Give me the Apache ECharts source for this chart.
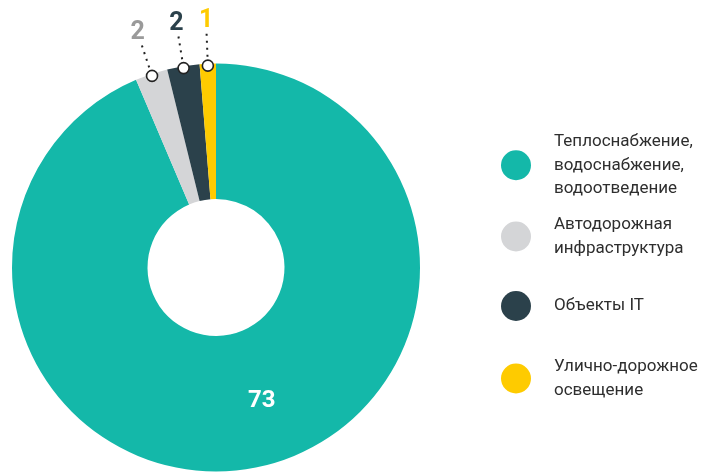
<!DOCTYPE html>
<html>
<head>
<meta charset="utf-8">
<script src="https://cdn.jsdelivr.net/npm/echarts@6/dist/echarts.min.js"></script>
<style>
  html, body { margin: 0; padding: 0; background: #ffffff; }
  #chart { width: 711px; height: 473px; }
</style>
</head>
<body>
<div id="chart"></div>
<script>
// Object counts by sector
const categories = [
  'Теплоснабжение,\nводоснабжение,\nводоотведение',
  'Автодорожная\nинфраструктура',
  'Объекты IT',
  'Улично-дорожное\nосвещение'
];
const values = [73, 2, 2, 1];
const sliceColors = ['#14b8a9', '#d4d5d7', '#2b414b', '#fecb00'];
const labelColors = ['#ffffff', '#9a9a9a', '#2b414b', '#fecb00'];

const total = values.reduce((a, b) => a + b, 0);
// mid-point of each slice along the angle axis (used for the marker dots)
const midpoints = [];
let acc = 0;
values.forEach(v => { midpoints.push(acc + v / 2); acc += v; });

const CENTER = [216, 267.5];
const R_IN = 68.5;
const R_OUT = 204;

const pieData = categories.map((name, i) => {
  const item = {
    name: name,
    value: values[i],
    itemStyle: { color: sliceColors[i] },
    label: { color: labelColors[i] }
  };
  if (i === 0) {
    item.label = {
      position: 'inside',
      color: labelColors[i],
      fontSize: 24,
      offset: [18, -3]
    };
    item.labelLine = { show: false };
  }
  return item;
});

// marker dots at the outer edge of the small slices
const dotData = values.map((v, i) => [1, midpoints[i]]).slice(1);

const legendTops = [125, 208, 286, 350];
const legends = categories.map((name, i) => ({
  data: [name],
  orient: 'vertical',
  left: 496,
  top: legendTops[i],
  icon: 'circle',
  itemWidth: 66,
  itemHeight: 30,
  selectedMode: false,
  textStyle: {
    fontFamily: 'Roboto',
    fontSize: 17,
    lineHeight: 23.5,
    color: '#2e2e2e'
  }
}));

const chart = echarts.init(document.getElementById('chart'), null, { renderer: 'canvas' });
chart.setOption({
  animation: false,
  backgroundColor: '#ffffff',
  legend: legends,
  polar: { center: CENTER, radius: R_OUT - 2 },
  angleAxis: { type: 'value', min: 0, max: total, startAngle: 90, clockwise: true, show: false },
  radiusAxis: { type: 'value', min: 0, max: 1, show: false },
  series: [
    {
      type: 'pie',
      center: CENTER,
      radius: [R_IN, R_OUT],
      startAngle: 90,
      clockwise: true,
      avoidLabelOverlap: false,
      silent: true,
      data: pieData,
      label: {
        show: true,
        position: 'outside',
        formatter: '{c}',
        fontFamily: 'Roboto',
        fontWeight: 'bold',
        fontSize: 25
      },
      labelLine: {
        show: true,
        length: 34,
        length2: 0,
        lineStyle: { color: '#222222', width: 2, type: [2, 5] }
      },
      labelLayout: function (params) {
        if (params.dataIndex === 0 || !params.labelLinePoints) return {};
        const p = params.labelLinePoints;
        const start = p[0];
        const end = p[p.length - 1];
        const dx = end[0] - start[0];
        const dy = end[1] - start[1];
        const len = Math.sqrt(dx * dx + dy * dy) || 1;
        const gap = 9;
        return {
          x: end[0] + dx / len * gap,
          y: end[1] + dy / len * gap,
          align: 'center',
          verticalAlign: 'middle',
          labelLinePoints: p
        };
      }
    },
    {
      type: 'scatter',
      coordinateSystem: 'polar',
      silent: true,
      z: 5,
      symbol: 'circle',
      symbolSize: 11,
      itemStyle: { color: '#ffffff', borderColor: '#222222', borderWidth: 1.6, opacity: 1 },
      data: dotData
    }
  ]
});
</script>
</body>
</html>
